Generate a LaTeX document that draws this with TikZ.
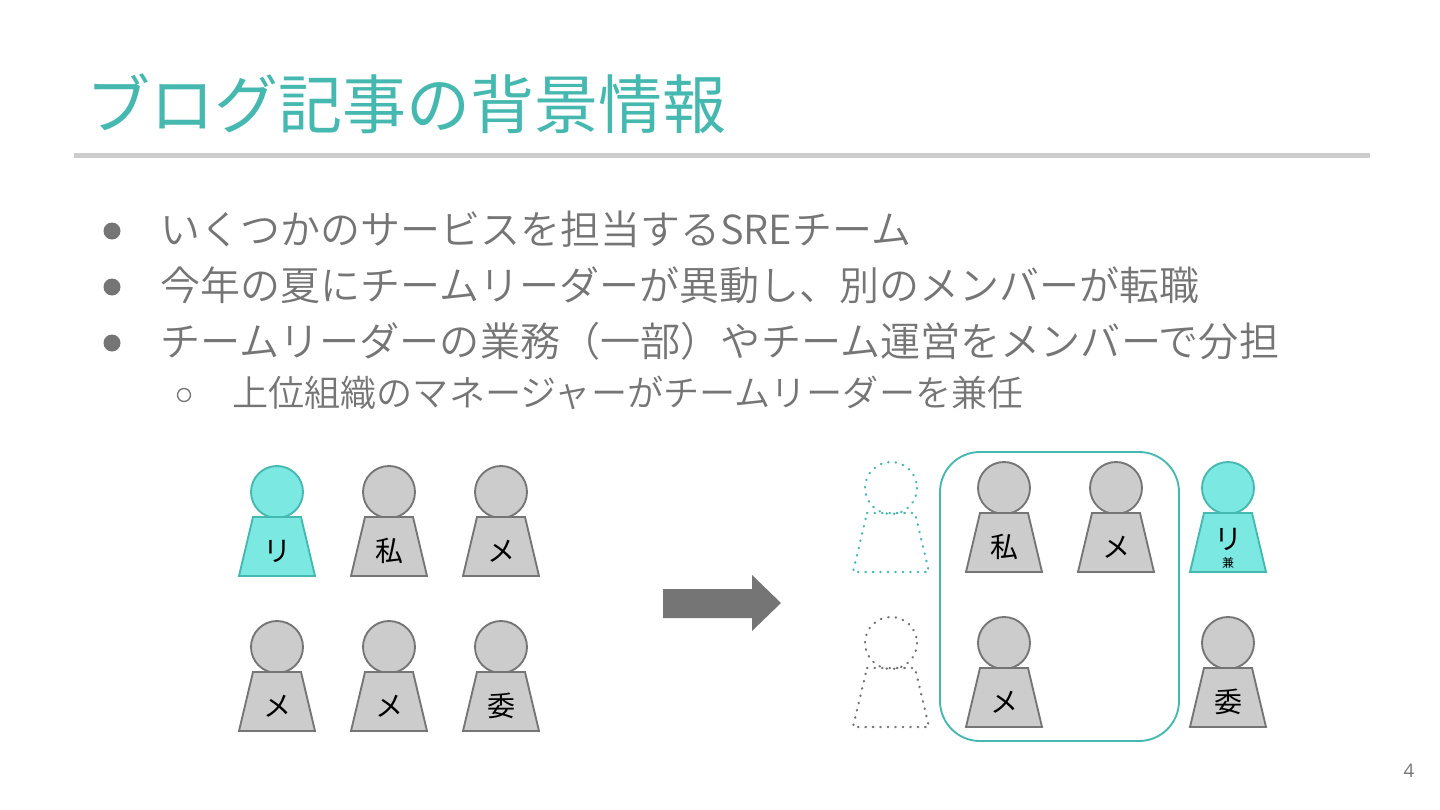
\documentclass[tikz,border=0pt]{standalone}
\usepackage{fontspec}
\setmainfont{Noto Sans CJK JP DemiLight}
\newfontfamily\regfont{Noto Sans CJK JP}
\newfontfamily\numfont{Open Sans}
\definecolor{teal1}{HTML}{45B8B0}
\definecolor{cyanfill}{HTML}{7BE9E2}
\definecolor{greyfill}{HTML}{CCCCCC}
\definecolor{greyline}{HTML}{757575}
\definecolor{bodytext}{HTML}{757575}
\newcommand{\psn}[6]{% name, x, y(head centre), style, label, label font size
  \draw[#4] (#2,#3) circle[radius=26];
  \draw[#4,line join=miter] (#2-24,#3+25) -- (#2+24,#3+25) -- (#2+38,#3+84) -- (#2-38,#3+84) -- cycle;
  \node[lbl] (#1) at (#2,#3+59) {\regfont\fontsize{#6}{#6}\selectfont #5};
}
\tikzset{
  x=0.75pt,y=-0.75pt,
  greyperson/.style={draw=greyline,fill=greyfill,line width=1.4pt},
  cyanperson/.style={draw=teal1,fill=cyanfill,line width=1.4pt},
  ghostcyan/.style={draw=teal1,line width=1.7pt,line cap=round,dash pattern=on 0.4pt off 5.2pt},
  ghostgrey/.style={draw=greyline,line width=1.7pt,line cap=round,dash pattern=on 0.4pt off 5.2pt},
  lbl/.style={inner sep=0pt,text=black,anchor=center},
  bodyline/.style={inner sep=0pt,anchor=base west,text=bodytext},
}
\begin{document}
\begin{tikzpicture}
\useasboundingbox (0,0) rectangle (1440,810);
\fill[white] (0,0) rectangle (1440,810);
% title
\node[inner sep=0pt,anchor=base west,text=teal1] (title) at (86,128) {\regfont\fontsize{48pt}{50pt}\selectfont ブログ記事の背景情報};
\fill[greyfill] (74,153) rectangle (1370,158);
% bullets
\node[bodyline] (b1) at (160,244) {\fontsize{30pt}{36pt}\selectfont いくつかのサービスを担当するSREチーム};
\node[bodyline] (b2) at (160,300) {\fontsize{30pt}{36pt}\selectfont 今年の夏にチームリーダーが異動し、別のメンバーが転職};
\node[bodyline] (b3) at (160,356) {\fontsize{30.1pt}{36pt}\selectfont チームリーダーの業務（一部）やチーム運営をメンバーで分担};
\node[bodyline] (b4) at (232,406) {\fontsize{27.1pt}{32pt}\selectfont 上位組織のマネージャーがチームリーダーを兼任};
\fill[bodytext] (112,231) circle[radius=8.5];
\fill[bodytext] (112,287) circle[radius=8.5];
\fill[bodytext] (112,343) circle[radius=8.5];
\draw[bodytext,line width=1pt] (184,395) circle[radius=6.5];
% left group
\psn{l1}{277}{492}{cyanperson}{リ}{21pt}
\psn{l2}{389}{492}{greyperson}{私}{21pt}
\psn{l3}{501}{492}{greyperson}{メ}{21pt}
\psn{l4}{277}{647}{greyperson}{メ}{21pt}
\psn{l5}{389}{647}{greyperson}{メ}{21pt}
\psn{l6}{501}{647}{greyperson}{委}{21pt}
% arrow
\fill[greyline] (663,589) -- (752,589) -- (752,575) -- (781,603) -- (752,631) -- (752,618) -- (663,618) -- cycle;
% right group
\draw[teal1,line width=1.4pt,rounded corners=30pt] (940,452) rectangle (1179,741);
\psn{g1}{891}{488}{ghostcyan}{}{21pt}
\psn{g2}{891}{643}{ghostgrey}{}{21pt}
\psn{r1}{1004}{488}{greyperson}{私}{21pt}
\psn{r2}{1116}{488}{greyperson}{メ}{21pt}
\psn{r3}{1004}{643}{greyperson}{メ}{21pt}
\psn{r4}{1228}{488}{cyanperson}{}{21pt}
\psn{r5}{1228}{643}{greyperson}{委}{21pt}
\node[lbl] (r4a) at (1228,539) {\regfont\fontsize{21pt}{21pt}\selectfont リ};
\node[lbl] (r4b) at (1228,563) {\regfont\fontsize{9pt}{9pt}\selectfont 兼};
% page number
\node[inner sep=0pt,text=bodytext] (pg) at (1409,771) {\numfont\fontsize{14pt}{14pt}\selectfont 4};
\end{tikzpicture}
\end{document}
